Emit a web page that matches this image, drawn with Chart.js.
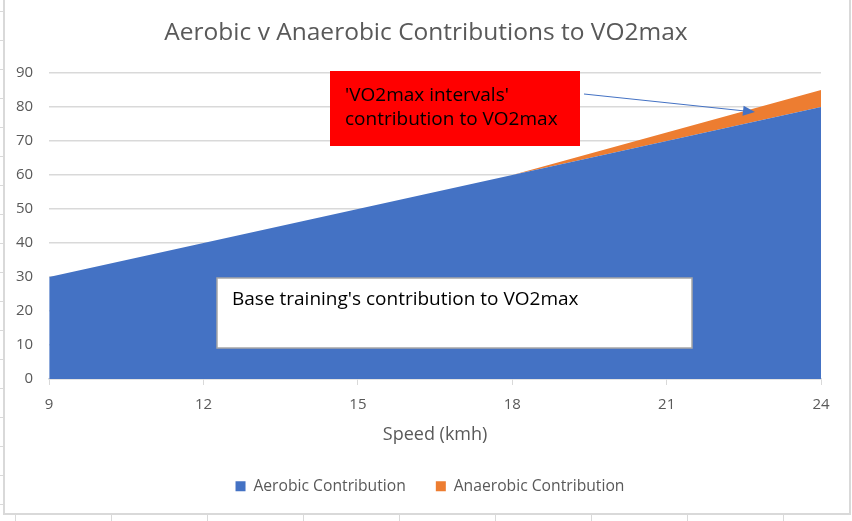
<!DOCTYPE html>
<html>
<head>
<meta charset="utf-8">
<script src="https://cdn.jsdelivr.net/npm/chart.js@4.4.1/dist/chart.umd.min.js"></script>
<style>
  html, body { margin: 0; padding: 0; background: #fff; }
  #wrap { position: absolute; left: 0; top: 0; width: 852px; height: 521px; }
</style>
</head>
<body>
<div id="wrap"><canvas id="vo2Chart" width="852" height="521"></canvas></div>
<script>
const speeds = ['9', '12', '15', '18', '21', '24'];
const aerobic = [30, 40, 50, 60, 70, 80];
const anaerobic = [0, 0, 0, 0, 2.5, 5];
const seriesNames = ['Aerobic Contribution', 'Anaerobic Contribution'];
const seriesColors = ['#4472c4', '#ed7d31'];

const FONT = '"Open Sans", "Noto Sans", sans-serif';

// excel-ish frame, sheet gridline stubs and the two text boxes
const decor = {
    id: 'decor',
    afterLayout(chart) {
        // centre the legend on the frame rather than on the padded box
        const lg = chart.legend;
        lg.left += 19.5;
        lg.right += 19.5;
    },
    beforeDraw(chart) {
        const c = chart.ctx;
        c.save();
        c.fillStyle = '#fff';
        c.fillRect(0, 0, chart.width, chart.height);
        c.strokeStyle = '#d9d9d9';
        c.lineWidth = 1;
        c.beginPath();
        for (let x = 15; x < 852; x += 96) { c.moveTo(x + 0.5, 514); c.lineTo(x + 0.5, 521); }
        for (let y = 11; y < 514; y += 29) { c.moveTo(0, y + 0.5); c.lineTo(3, y + 0.5); }
        c.stroke();
        c.lineWidth = 2;
        c.strokeStyle = '#d9d9d9';
        c.strokeRect(4, -2, 846, 516);
        c.restore();
    },
    afterDraw(chart) {
        const c = chart.ctx;
        c.save();
        c.textBaseline = 'middle';
        // chart title (drawn here so it can sit centred on the frame)
        c.fillStyle = '#595959';
        c.font = '24.5px ' + FONT;
        c.textAlign = 'center';
        c.fillText('Aerobic v Anaerobic Contributions to VO2max', 426, 33);
        c.textAlign = 'left';
        // red box
        c.fillStyle = '#ff0000';
        c.fillRect(330, 71, 250, 75);
        c.fillStyle = '#000';
        c.font = '19px ' + FONT;
        c.fillText("'VO2max intervals'", 345, 96);
        c.fillText('contribution to VO2max', 345, 120);
        // arrow
        c.strokeStyle = '#4472c4';
        c.fillStyle = '#4472c4';
        c.lineWidth = 1;
        c.beginPath();
        c.moveTo(584, 94);
        c.lineTo(745, 111);
        c.stroke();
        const a = Math.atan2(111 - 94, 745 - 584);
        c.beginPath();
        c.moveTo(755, 112);
        c.lineTo(755 - 12 * Math.cos(a) + 5 * Math.sin(a), 112 - 12 * Math.sin(a) - 5 * Math.cos(a));
        c.lineTo(755 - 12 * Math.cos(a) - 5 * Math.sin(a), 112 - 12 * Math.sin(a) + 5 * Math.cos(a));
        c.closePath();
        c.fill();
        // white box
        c.fillStyle = '#fff';
        c.fillRect(217, 278, 475, 70);
        c.strokeStyle = '#a6a6a6';
        c.lineWidth = 1.5;
        c.strokeRect(217, 278, 475, 70);
        c.fillStyle = '#000';
        c.fillText("Base training's contribution to VO2max", 232, 300);
        c.restore();
    }
};

new Chart(document.getElementById('vo2Chart'), {
    type: 'line',
    data: {
        labels: speeds,
        datasets: [{
            label: seriesNames[0],
            data: aerobic,
            backgroundColor: seriesColors[0],
            borderColor: seriesColors[0],
            borderWidth: 0,
            pointRadius: 0,
            fill: 'origin'
        }, {
            label: seriesNames[1],
            data: anaerobic,
            backgroundColor: seriesColors[1],
            borderColor: seriesColors[1],
            borderWidth: 0,
            pointRadius: 0,
            fill: '-1'
        }]
    },
    options: {
        responsive: false,
        animation: false,
        layout: { padding: { left: 0, right: 31, top: 73, bottom: 17 } },
        plugins: {
            title: { display: false },
            legend: {
                position: 'bottom',
                labels: {
                    color: '#595959',
                    font: { family: FONT, size: 15.7 },
                    boxWidth: 10,
                    boxHeight: 10,
                    padding: 30
                }
            },
            tooltip: { enabled: false }
        },
        scales: {
            x: {
                offset: false,
                grid: { display: true, drawOnChartArea: false, drawTicks: true, tickLength: 6, color: '#d9d9d9' },
                border: { color: '#d9d9d9', width: 1.5 },
                ticks: { color: '#595959', font: { family: FONT, size: 15 }, padding: 11, maxRotation: 0 },
                title: { display: true, text: 'Speed (kmh)', color: '#595959', font: { family: FONT, size: 18, lineHeight: 1 }, padding: { top: 1.3, bottom: 4 } }
            },
            y: {
                stacked: true,
                min: 0,
                max: 90,
                ticks: { stepSize: 10, color: '#595959', font: { family: FONT, size: 15 }, padding: 16 },
                grid: { color: '#d9d9d9', lineWidth: 1.5, drawTicks: false },
                border: { display: false }
            }
        }
    },
    plugins: [decor]
});
</script>
</body>
</html>
